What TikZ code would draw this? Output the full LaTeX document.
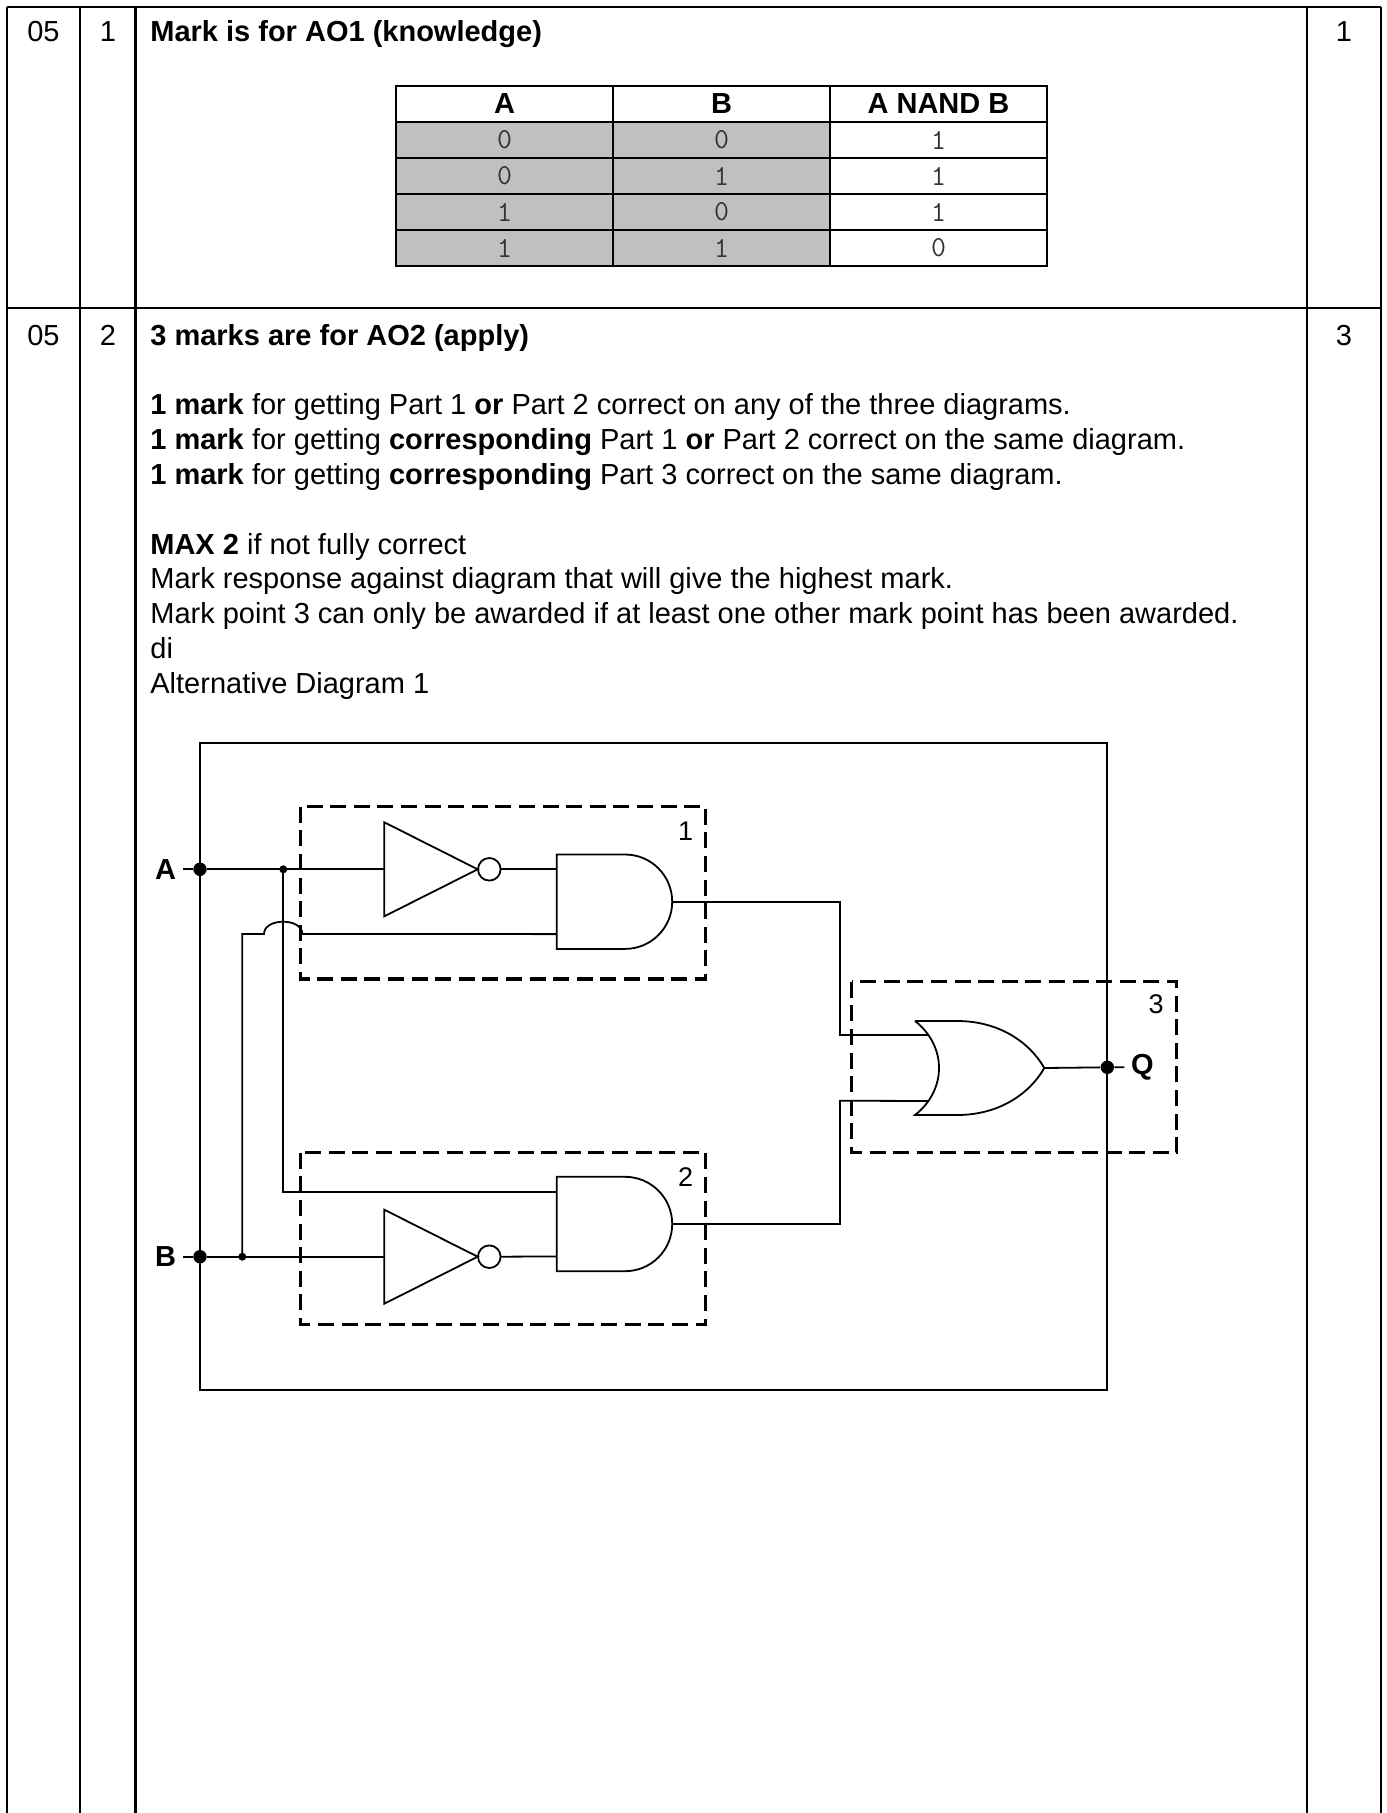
\documentclass[tikz,border=0pt]{standalone}
\usepackage{fontspec}
\setmainfont{Liberation Sans}
\usetikzlibrary{positioning}

\definecolor{cellgrey}{HTML}{C0C0C0}

\tikzset{
  body/.style={inner sep=0pt,anchor=base west,font=\fontsize{14.5}{17}\selectfont},
  bodybold/.style={body,font=\fontsize{14.5}{17}\selectfont\bfseries},
  mid/.style={inner sep=0pt,anchor=base,font=\fontsize{14.5}{17}\selectfont},
  head/.style={inner sep=0pt,font=\fontsize{14.5}{17}\selectfont\bfseries},
  digit/.style={inner sep=0pt,text=black!80,font=\fontsize{14.5}{17}\ttfamily},
  rule/.style={line width=1.4pt},
  ttline/.style={line width=1pt},
  wire/.style={line width=0.9pt},
  part/.style={line width=1.7pt,dash pattern=on 8pt off 3.8pt},
  bigdot/.style={circle,fill,inner sep=0pt,minimum size=6.7pt},
  smalldot/.style={circle,fill,inner sep=0pt,minimum size=4pt},
  pinlabel/.style={inner sep=3.2pt,font=\fontsize{14.5}{17}\selectfont\bfseries},
  partnum/.style={inner sep=0pt,font=\fontsize{13.5}{16}\selectfont},
  notgate/.pic={
    \draw[wire] (0,-47) -- (93.4,0) -- (0,47) -- cycle;
    \draw[wire] (105,0) circle[radius=5.65pt];
    \coordinate (-in) at (0,0);
    \coordinate (-out) at (116.3,0);
  },
  andgate/.pic={
    \draw[wire] (68.3,-47.2) -- (0,-47.2) -- (0,47.2) -- (68.3,47.2)
      .. controls (94.4,47.2) and (115.5,26.1) .. (115.5,0)
      .. controls (115.5,-26.1) and (94.4,-47.2) .. (68.3,-47.2);
    \coordinate (-in1) at (0,-32.4);
    \coordinate (-in2) at (0,32.4);
    \coordinate (-out) at (115.5,0);
  },
  orgate/.pic={
    \draw[wire] (0,-47) -- (42,-47)
      .. controls (85,-47) and (115,-25) .. (129.3,0)
      .. controls (115,25) and (85,47) .. (42,47) -- (0,47)
      .. controls (32,22) and (32,-22) .. (0,-47);
    \coordinate (-in1) at (13,-33);
    \coordinate (-in2) at (13,33);
    \coordinate (-out) at (129.3,0);
  }
}

\begin{document}
\begin{tikzpicture}[x=0.5pt,y=-0.5pt]
  \useasboundingbox (0,0) rectangle (1386,1813);
  % mark scheme grid
  \draw[rule] (7,7) -- (1381,7) (7,308) -- (1381,308);
  \foreach \x in {7,80,135.5,1307,1381}
    \draw[rule] (\x,7) -- (\x,1813);

  % question 05.1
  \node[mid] (q1) at (43.5,42) {05};
  \node[mid] (p1) at (108,42) {1};
  \node[bodybold] (t1) at (150,42) {Mark is for AO1 (knowledge)};
  \node[mid] (m1) at (1344,42) {1};

  % truth table
  \fill[cellgrey] (396,122) rectangle (830,266);
  \draw[ttline] (396,86) rectangle (1047,266);
  \foreach \x in {613,830} \draw[ttline] (\x,86) -- (\x,266);
  \foreach \y in {122,158,194,230} \draw[ttline] (396,\y) -- (1047,\y);
  \node[head] (hA) at (504.5,104) {A};
  \node[head] (hB) at (721.5,104) {B};
  \node[head] (hQ) at (938.5,104) {A NAND B};
  \foreach \a/\b/\q [count=\r] in {0/0/1,0/1/1,1/0/1,1/1/0} {
    \node[digit] (a\r) at (504.5,{104+36*\r}) {\a};
    \node[digit] (b\r) at (721.5,{104+36*\r}) {\b};
    \node[digit] (o\r) at (938.5,{104+36*\r}) {\q};
  }

  % question 05.2
  \node[mid] (q2) at (43.5,345) {05};
  \node[mid] (p2) at (108,345) {2};
  \node[bodybold] (t2) at (150,345) {3 marks are for AO2 (apply)};
  \node[mid] (m2) at (1344,345) {3};
  \node[body] (l1) at (150,414) {\textbf{1 mark} for getting Part 1 \textbf{or} Part 2 correct on any of the three diagrams.};
  \node[body] (l2) at (150,449) {\textbf{1 mark} for getting \textbf{corresponding} Part 1 \textbf{or} Part 2 correct on the same diagram.};
  \node[body] (l3) at (150,484) {\textbf{1 mark} for getting \textbf{corresponding} Part 3 correct on the same diagram.};
  \node[body] (l4) at (150,554) {\textbf{MAX 2} if not fully correct};
  \node[body] (l5) at (150,588.5) {Mark response against diagram that will give the highest mark.};
  \node[body] (l6) at (150,623) {Mark point 3 can only be awarded if at least one other mark point has been awarded.};
  \node[body] (l7) at (150,658) {di};
  \node[body] (l8) at (150,693) {Alternative Diagram 1};

  % circuit
  \draw[wire] (200,743.3) rectangle (1107.3,1390);
  \draw[part] (300.7,806.7) rectangle (705.7,979);
  \draw[part] (300.7,1152.7) rectangle (705.7,1324.3);
  \draw[part] (851.7,981.7) rectangle (1176.7,1152.7);
  \node[partnum] (n1) at (685.7,831.7) {1};
  \node[partnum] (n2) at (685.7,1176.7) {2};
  \node[partnum] (n3) at (1156,1004.3) {3};

  \pic (not1) at (384.3,869.3) {notgate};
  \pic (not2) at (384.3,1256.7) {notgate};
  \pic (and1) at (556.7,901.7) {andgate};
  \pic (and2) at (556.7,1224) {andgate};
  \pic (or1) at (915,1068) {orgate};

  \node[bigdot] (Adot) at (200,869.3) {};
  \node[bigdot] (Bdot) at (200,1256.7) {};
  \node[bigdot] (Qdot) at (1107.3,1067.3) {};
  \node[smalldot] (jA) at (283.3,869.3) {};
  \node[smalldot] (jB) at (242.3,1256.7) {};
  \node[pinlabel,left=5pt of Adot] (A) {A};
  \node[pinlabel,left=5pt of Bdot] (B) {B};
  \node[pinlabel,right=5pt of Qdot] (Q) {Q};

  \coordinate (hopL) at (264,934);
  \coordinate (hopR) at (302.3,934);
  \coordinate (k1) at (840,1035);
  \coordinate (k2) at (840,1100.7);

  % wires
  \draw[wire] (A) -- (Adot) (Adot) -- (not1-in);
  \draw[wire] (B) -- (Bdot) (Bdot) -- (not2-in);
  \draw[wire] (not1-out) -- (and1-in1);
  \draw[wire] (not2-out) -- (and2-in2);
  \draw[wire] (jA.center) |- (and2-in1);
  \draw[wire] (jB.center) |- (hopL) .. controls +(0,-16.4) and +(0,-16.4) .. (hopR) -- (and1-in2);
  \draw[wire] (and1-out) -| (k1) -- (or1-in1);
  \draw[wire] (and2-out) -| (k2) -- (or1-in2);
  \draw[wire] (or1-out) -- (Qdot) (Qdot) -- (Q);
\end{tikzpicture}
\end{document}
